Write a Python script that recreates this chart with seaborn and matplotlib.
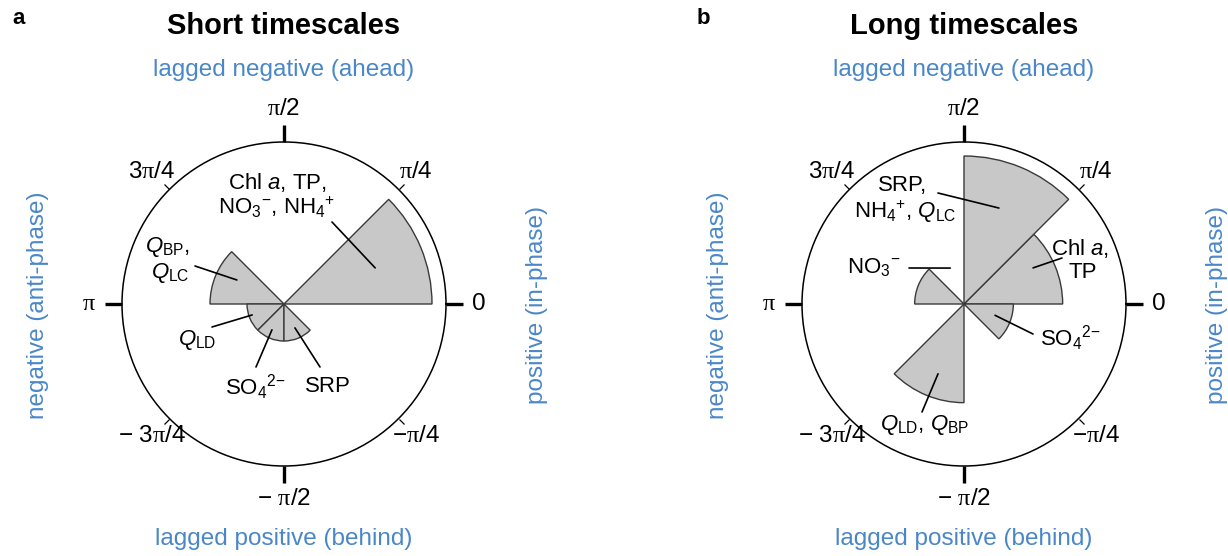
import numpy as np
import matplotlib
matplotlib.use("Agg")
import matplotlib.pyplot as plt
import seaborn as sns

# ---------------- data ----------------
sector_start_deg = [0, 45, 90, 135, 180, 225, 270, 315]
short_counts = [4, 0, 0, 2, 1, 1, 1, 0]
long_counts = [2, 3, 0, 1, 0, 2, 0, 1]
tick_angles_deg = [0, 45, 90, 135, 180, 225, 270, 315]
PI = r"$\mathcal{\pi}$"
tick_labels = ["0", PI + "/4", PI + "/2", "3" + PI + "/4", PI,
               "\u2212 3" + PI + "/4", "\u2212 " + PI + "/2", "\u2212" + PI + "/4"]
titles = ["Short timescales", "Long timescales"]
panel_letters = ["a", "b"]

NO3 = r"NO$_3$$^{-}$"
NH4 = r"NH$_4$$^{+}$"
SO4 = r"SO$_4$$^{2{-}}$"

# annotations: (label lines, text offset px, line start px, anchor angle deg, anchor radius in counts)
short_notes = [
    ([r"Chl $a$, TP,", NO3 + ", " + NH4], [(-7, 122), (-7, 97)], (48, 82), 21.6, 2.65),
    ([r"$Q_{\mathrm{BP}}$,", r"$Q_{\mathrm{LC}}$"], [(-117, 57), (-114, 31)], (-89, 38), 153, 1.43),
    ([r"$Q_{\mathrm{LD}}$"], [(-87, -36)], (-72, -23), 199, 0.91),
    ([SO4], [(-29, -83)], (-28, -63), 245, 0.77),
    (["SRP"], [(44, -83)], (36, -63), 294.6, 0.71),
]
long_notes = [
    (["SRP,", NH4 + r", $Q_{\mathrm{LC}}$"], [(-61, 119), (-59, 92)], (-26, 111), 70, 2.07),
    ([r"Chl $a$,", "TP"], [(116, 56), (119, 31)], (98, 46), 27.6, 1.58),
    ([NO3], [(-90, 36)], (-55, 36), 111, 0.78),
    ([SO4], [(106, -34)], (69, -30), 340, 0.67),
    ([r"$Q_{\mathrm{LD}}$, $Q_{\mathrm{BP}}$"], [(-39, -121)], (-42, -108), 249.6, 1.51),
]

# ---------------- style ----------------
sns.set_theme(style="white")
plt.rcParams["font.family"] = ["Liberation Sans", "DejaVu Sans"]
plt.rcParams["text.color"] = "black"
plt.rcParams["mathtext.fontset"] = "custom"
plt.rcParams["mathtext.rm"] = "Liberation Sans"
plt.rcParams["mathtext.it"] = "Liberation Sans:italic"
plt.rcParams["mathtext.bf"] = "Liberation Sans:bold"
plt.rcParams["mathtext.cal"] = "Liberation Serif"

BLUE = "#4a87c9"
FILL = "#c8c8c8"
EDGE = "#3a3a3a"

W, H = 1228, 556
fig = plt.figure(figsize=(W / 100, H / 100), dpi=100)

centers = [(284, 304), (964, 304)]
R_CIRCLE = 162.0   # px
R_MAX_BAR = 148.0  # px


def fpix(x, y):
    return x / W, 1 - y / H


for k, (counts, notes) in enumerate([(short_counts, short_notes), (long_counts, long_notes)]):
    cx, cy = centers[k]
    ax = fig.add_axes([(cx - R_CIRCLE) / W, (H - cy - R_CIRCLE) / H,
                       2 * R_CIRCLE / W, 2 * R_CIRCLE / H], projection="polar")
    cmax = max(counts)
    rlim = cmax * R_CIRCLE / R_MAX_BAR
    theta = np.deg2rad(sector_start_deg)
    c = np.array(counts)
    m = c > 0
    ax.bar(theta[m], c[m], width=np.pi / 4, align="edge", color=FILL,
           edgecolor=EDGE, linewidth=1.0, zorder=2)
    ax.set_ylim(0, rlim)
    ax.grid(False)
    ax.set_yticks([])
    ax.spines["polar"].set_linewidth(1.1)
    ax.spines["polar"].set_color("black")
    ta = np.deg2rad(tick_angles_deg)
    ax.set_xticks(ta[::2])
    ax.set_xticks(ta[1::2], minor=True)
    ax.set_xticklabels([])
    ax.set_xticklabels([], minor=True)
    ax.tick_params(axis="x", which="both", bottom=False, top=True, direction="out",
                   color="black")
    ax.tick_params(axis="x", which="major", length=12, width=2.4)
    ax.tick_params(axis="x", which="minor", length=5.5, width=0.9)

    # tick labels
    for ang, lab in zip(ta, tick_labels):
        major = int(round(np.rad2deg(ang))) % 90 == 0
        rr = rlim * (195 if major else 187) / R_CIRCLE
        ax.text(ang, rr, lab, ha="center", va="center", fontsize=17.5,
                color="black", clip_on=False)

    # annotations
    for lines, txt_pos, line_start, a_deg, a_r in notes:
        for ln, (dx, dy) in zip(lines, txt_pos):
            ax.text(0.5 + dx / (2 * R_CIRCLE), 0.5 + dy / (2 * R_CIRCLE), ln,
                    transform=ax.transAxes, ha="center", va="center",
                    fontsize=16, color="black", clip_on=False)
        sx, sy = line_start
        ax.annotate("", xy=(np.deg2rad(a_deg), a_r), xycoords="data",
                    xytext=(0.5 + sx / (2 * R_CIRCLE), 0.5 + sy / (2 * R_CIRCLE)),
                    textcoords="axes fraction", annotation_clip=False,
                    arrowprops=dict(arrowstyle="-", color="black", lw=1.2,
                                    shrinkA=0, shrinkB=0))

    # titles and side labels
    fig.text(*fpix(cx, 26), titles[k], ha="center", va="center",
             fontsize=21, fontweight="bold", color="black")
    fig.text(*fpix(cx - 272 if k == 0 else cx - 267, 18), panel_letters[k],
             ha="left", va="center", fontsize=16, fontweight="bold", color="black")
    fig.text(*fpix(cx, 70), "lagged negative (ahead)", ha="center", va="center",
             fontsize=17.5, color=BLUE)
    fig.text(*fpix(cx, 539), "lagged positive (behind)", ha="center", va="center",
             fontsize=17.5, color=BLUE)
    fig.text(*fpix(cx - 246, 305), "negative (anti-phase)", ha="center", va="center",
             rotation=90, fontsize=17.5, color=BLUE)
    fig.text(*fpix(cx + 253, 305), "positive (in-phase)", ha="center", va="center",
             rotation=90, fontsize=17.5, color=BLUE)

fig.savefig("out.png", dpi=100)
